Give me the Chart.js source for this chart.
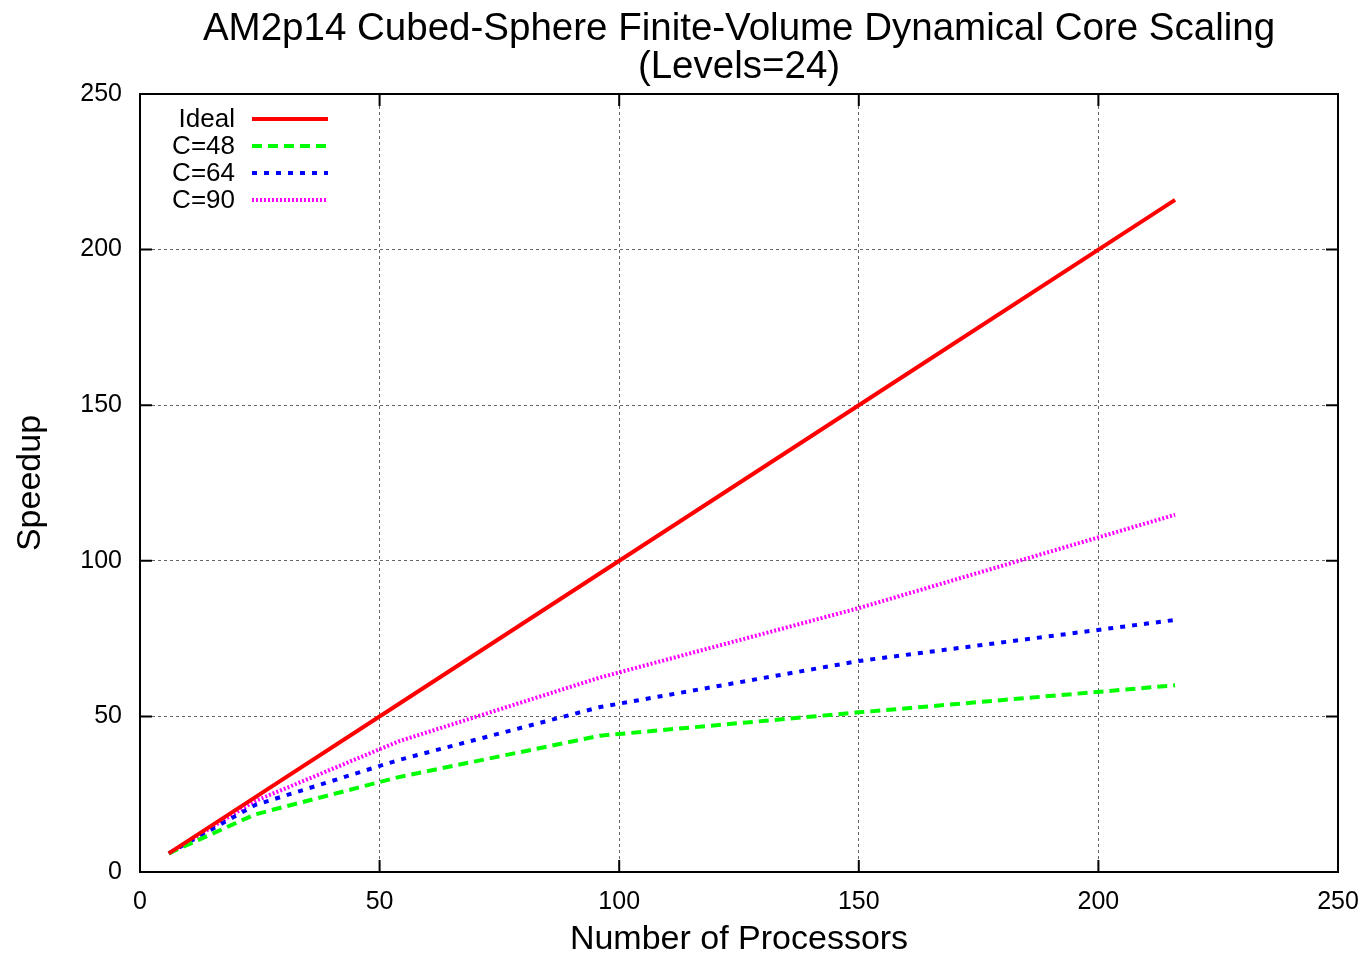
<!DOCTYPE html>
<html>
<head>
<meta charset="utf-8">
<script src="https://cdn.jsdelivr.net/npm/chart.js@4"></script>
<style>
  html, body { margin: 0; padding: 0; background: #fff; }
  #wrap { width: 1368px; height: 956px; }
</style>
</head>
<body>
<div id="wrap"><canvas id="grafica" width="1368" height="956"></canvas></div>
<script>
// procesadores (6 caras del cubo x n^2)
const procesadores = [6, 24, 54, 96, 150, 216]

const ideal = [6, 24, 54, 96, 150, 216]
const c48 = [6, 18.5, 30.5, 43.8, 51.3, 60]
const c64 = [6, 21.5, 36, 53, 67.8, 81]
const c90 = [6, 22.8, 42, 62.5, 84.8, 114.8]

const ticksX = [0, 50, 100, 150, 200, 250]
const ticksY = [0, 50, 100, 150, 200, 250]

const titulo = ['AM2p14 Cubed-Sphere Finite-Volume Dynamical Core Scaling', '(Levels=24)']

const fuente = "'Liberation Sans', Arial, Helvetica, sans-serif"

const series = [
   { label: 'Ideal', data: ideal, color: '#ff0000', dash: [] },
   { label: 'C=48', data: c48, color: '#00ff00', dash: [10, 6] },
   { label: 'C=64', data: c64, color: '#0000ff', dash: [5, 7] },
   { label: 'C=90', data: c90, color: '#ff00ff', dash: [2, 2] }
]

const generarPuntos = (valores) => {
   return procesadores.map((p, i) => ({ x: p, y: valores[i] }))
}

const datasets = series.map(s => ({
   label: s.label,
   data: generarPuntos(s.data),
   borderColor: s.color,
   backgroundColor: s.color,
   borderDash: s.dash,
   borderWidth: 4,
   pointRadius: 0,
   fill: false,
   tension: 0
}))

// borde del area, ticks hacia dentro, titulo y leyenda estilo gnuplot
const marcoYLeyenda = {
   id: 'marcoYLeyenda',
   afterDraw(chart) {
      const ctx = chart.ctx
      const a = chart.chartArea
      const sx = chart.scales.x
      const sy = chart.scales.y
      ctx.save()
      ctx.strokeStyle = '#000'
      ctx.lineWidth = 2
      ctx.setLineDash([])
      ctx.strokeRect(a.left, a.top, a.right - a.left, a.bottom - a.top)
      ctx.beginPath()
      ticksX.forEach(v => {
         const px = sx.getPixelForValue(v)
         ctx.moveTo(px, a.bottom); ctx.lineTo(px, a.bottom - 12)
         ctx.moveTo(px, a.top); ctx.lineTo(px, a.top + 12)
      })
      ticksY.forEach(v => {
         const py = sy.getPixelForValue(v)
         ctx.moveTo(a.left, py); ctx.lineTo(a.left + 12, py)
         ctx.moveTo(a.right, py); ctx.lineTo(a.right - 12, py)
      })
      ctx.stroke()

      // titulo centrado sobre el area del grafico
      ctx.fillStyle = '#000'
      ctx.font = '38.5px ' + fuente
      ctx.textAlign = 'center'
      ctx.textBaseline = 'middle'
      const cx = (a.left + a.right) / 2
      ctx.fillText(titulo[0], cx, a.top - 65)
      ctx.fillText(titulo[1], cx, a.top - 27)

      ctx.font = '26px ' + fuente
      ctx.textAlign = 'right'
      series.forEach((s, i) => {
         const y = a.top + 25 + i * 27
         ctx.fillStyle = '#000'
         ctx.fillText(s.label, a.left + 95, y + 1)
         ctx.strokeStyle = s.color
         ctx.lineWidth = 4
         ctx.setLineDash(s.dash)
         ctx.beginPath()
         ctx.moveTo(a.left + 112, y)
         ctx.lineTo(a.left + 188, y)
         ctx.stroke()
      })
      ctx.restore()
   }
}

const colorRejilla = (c) => {
   const v = c.tick ? c.tick.value : 0
   return (v === 0 || v === 250) ? 'rgba(0,0,0,0)' : '#666'
}

const ctx = document.getElementById('grafica').getContext('2d')

new Chart(ctx, {
   type: 'line',
   data: { datasets: datasets },
   plugins: [marcoYLeyenda],
   options: {
      responsive: false,
      animation: false,
      layout: { padding: { left: 0, right: 30, top: 94, bottom: 0 } },
      plugins: {
         legend: { display: false },
         tooltip: { enabled: false },
         title: { display: false }
      },
      scales: {
         x: {
            type: 'linear',
            min: 0,
            max: 250,
            afterFit: (s) => { s.height = 84; s.paddingLeft = 0; s.paddingRight = 0 },
            afterBuildTicks: (s) => { s.ticks = ticksX.map(v => ({ value: v })) },
            border: { display: false, dash: [3, 3] },
            grid: { color: colorRejilla, lineWidth: 1, drawTicks: false },
            ticks: { color: '#000', padding: 15, maxRotation: 0, font: { family: fuente, size: 25 } },
            title: {
               display: true,
               text: 'Number of Processors',
               color: '#000',
               padding: { top: 4, bottom: -4 },
               font: { family: fuente, size: 34 }
            }
         },
         y: {
            type: 'linear',
            min: 0,
            max: 250,
            afterFit: (s) => { s.width = 140; s.paddingTop = 0; s.paddingBottom = 0 },
            afterBuildTicks: (s) => { s.ticks = ticksY.map(v => ({ value: v })) },
            border: { display: false, dash: [3, 3] },
            grid: { color: colorRejilla, lineWidth: 1, drawTicks: false },
            ticks: { color: '#000', padding: 18, font: { family: fuente, size: 25 } },
            title: {
               display: true,
               text: 'Speedup',
               color: '#000',
               padding: { top: 10, bottom: 0 },
               font: { family: fuente, size: 34 }
            }
         }
      }
   }
})
</script>
</body>
</html>
